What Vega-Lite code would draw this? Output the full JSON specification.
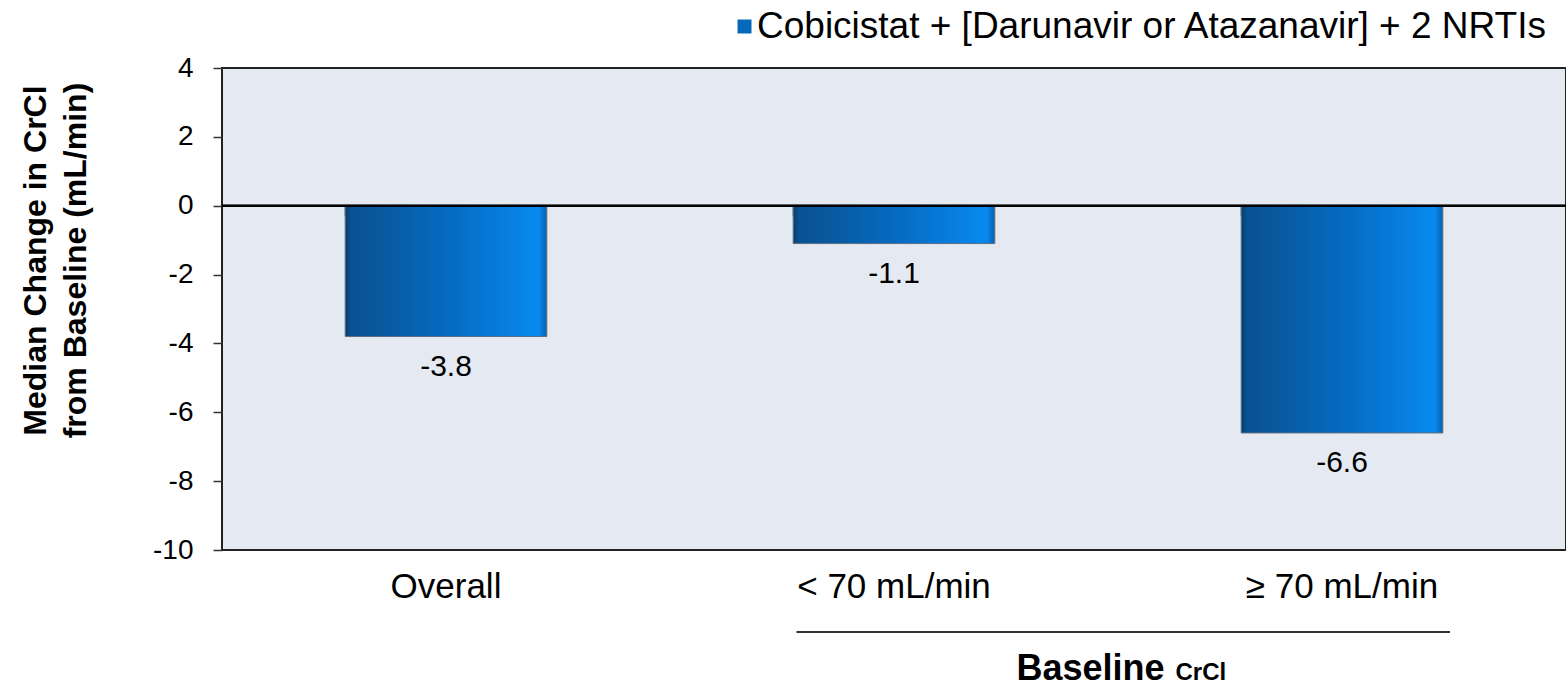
{
  "$schema": "https://vega.github.io/schema/vega-lite/v6.json",
  "autosize": {"type": "none"},
  "padding": {"left": 222, "top": 68, "right": 0, "bottom": 136},
  "width": 1344,
  "height": 482,
  "background": "white",
  "config": {
    "font": "Liberation Sans",
    "view": {"fill": "#E5E9F2", "stroke": "#222222", "strokeWidth": 2},
    "axis": {"labelFont": "Liberation Sans", "titleFont": "Liberation Sans", "labelColor": "#000000", "titleColor": "#000000", "grid": false}
  },
  "data": {
    "values": [
      {"cat": "Overall", "value": -3.8, "series": "Cobicistat + [Darunavir or Atazanavir] + 2 NRTIs"},
      {"cat": "< 70 mL/min", "value": -1.1, "series": "Cobicistat + [Darunavir or Atazanavir] + 2 NRTIs"},
      {"cat": "≥ 70 mL/min", "value": -6.6, "series": "Cobicistat + [Darunavir or Atazanavir] + 2 NRTIs"}
    ]
  },
  "resolve": {"scale": {"x": "independent"}},
  "layer": [
    {
      "mark": {"type": "bar", "stroke": "#5d6e80", "strokeWidth": 1,
        "fill": {"gradient": "linear", "x1": 0, "x2": 1, "y1": 0, "y2": 0, "stops": [
          {"offset": 0, "color": "#083f70"},
          {"offset": 0.03, "color": "#0A5290"},
          {"offset": 0.5, "color": "#066AC0"},
          {"offset": 0.96, "color": "#0889EE"},
          {"offset": 1, "color": "#0A5FA8"}
        ]}},
      "encoding": {
        "x": {
          "field": "cat", "type": "nominal", "sort": null,
          "scale": {"paddingInner": 0.55, "paddingOuter": 0.275},
          "axis": {
            "orient": "bottom", "ticks": false, "domain": false, "tickSize": 0,
            "labelFontSize": 35, "labelPadding": 19, "labelAngle": 0, "labelLimit": 400,
            "title": "Baseline", "titleFontSize": 36, "titleFontWeight": "bold",
            "titleX": 868, "titleY": 129, "titleAlign": "center", "titleBaseline": "alphabetic"
          }
        },
        "y": {
          "field": "value", "type": "quantitative",
          "scale": {"domain": [-10, 4], "nice": false, "zero": false},
          "axis": {
            "values": [-10, -8, -6, -4, -2, 0, 2, 4], "labelExpr": "datum.value + ''",
            "domain": false, "ticks": true, "tickSize": 9, "tickColor": "#333333", "tickWidth": 1.5,
            "labelFontSize": 28, "labelPadding": 20,
            "title": ["Median Change in CrCl", "from Baseline (mL/min)"],
            "titleFontSize": 32, "titleFontWeight": "bold", "titleLineHeight": 40,
            "titleX": -187, "titleY": 192, "titleAngle": -90, "titleAlign": "center", "titleBaseline": "middle"
          }
        }
      }
    },
    {
      "mark": {"type": "rule", "color": "#000000", "strokeWidth": 2},
      "encoding": {"y": {"datum": 0, "type": "quantitative"}}
    },
    {
      "mark": {"type": "square", "opacity": 0},
      "encoding": {
        "x": {"field": "cat", "type": "nominal", "sort": null, "scale": {"type": "band", "paddingInner": 0.55, "paddingOuter": 0.275}, "axis": null},
        "y": {"field": "value", "type": "quantitative"},
        "color": {
          "field": "series", "type": "nominal",
          "scale": {"range": ["#0668BA"]},
          "legend": {
            "orient": "none", "legendX": 504, "legendY": -60, "title": null,
            "symbolType": "square", "symbolSize": 196, "symbolStrokeWidth": 0, "symbolOpacity": 1,
            "symbolFillColor": "#0668BA",
            "labelFontSize": 37, "labelFont": "Liberation Sans", "labelColor": "#000000", "labelLimit": 1000, "labelOffset": -6
          }
        }
      }
    },
    {
      "mark": {"type": "text", "baseline": "top", "dy": 15, "fontSize": 30, "color": "#000000", "font": "Liberation Sans"},
      "encoding": {
        "x": {"field": "cat", "type": "nominal", "sort": null, "scale": {"type": "band", "paddingInner": 0.55, "paddingOuter": 0.275}, "axis": null},
        "y": {"field": "value", "type": "quantitative"},
        "text": {"field": "value", "type": "nominal"}
      }
    },
    {
      "mark": {"type": "bar", "opacity": 0},
      "encoding": {
        "x": {
          "field": "cat", "type": "nominal", "sort": null,
          "scale": {"type": "band", "paddingInner": 0.55, "paddingOuter": 0.275},
          "axis": {
            "orient": "bottom", "offset": -344, "bandPosition": 0, "labels": false, "domain": false,
            "ticks": true, "tickSize": 10, "tickColor": "#333333", "tickWidth": 1.5,
            "title": "CrCl", "titleFontSize": 24, "titleFontWeight": "bold",
            "titleX": 953, "titleY": 473, "titleAlign": "left", "titleBaseline": "alphabetic"
          }
        },
        "y": {"field": "value", "type": "quantitative"}
      }
    },
    {
      "mark": {"type": "rule", "color": "#333333", "strokeWidth": 2, "clip": false},
      "encoding": {
        "x": {"datum": 1.283, "type": "quantitative", "scale": {"domain": [0, 3], "nice": false, "zero": false}, "axis": null},
        "x2": {"datum": 2.741},
        "y": {"datum": -12.38, "type": "quantitative"}
      }
    }
  ]
}
